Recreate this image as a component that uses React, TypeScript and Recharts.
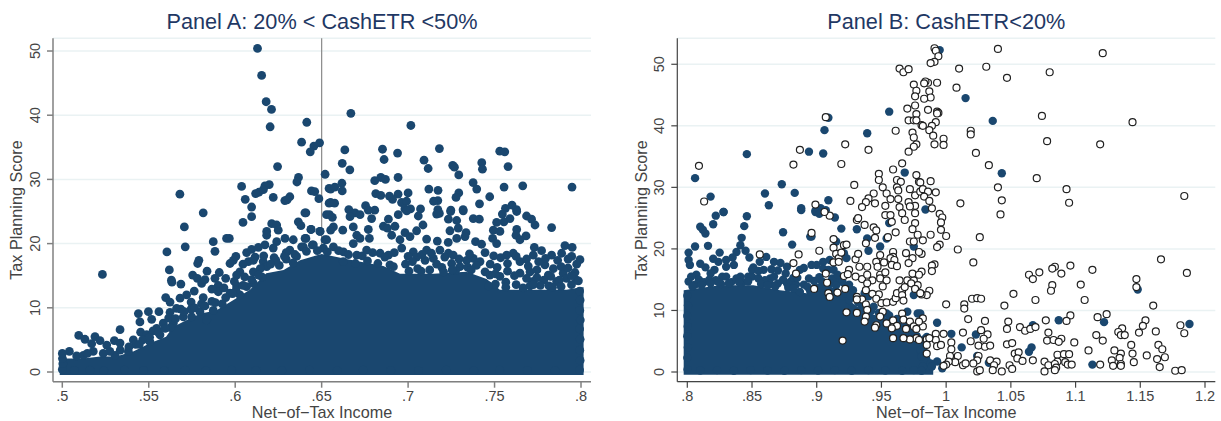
import { Area, CartesianGrid, ComposedChart, Label, ReferenceLine, Scatter, XAxis, YAxis } from 'recharts';

type Pair = [number, number];

const NAVY = '#1a476f';
const FONT = '"Liberation Sans", Arial, sans-serif';

const ticksAX = [0.5, 0.55, 0.6, 0.65, 0.7, 0.75, 0.8];
const ticksAY = [0, 10, 20, 30, 40, 50];
const ticksBX = [0.8, 0.85, 0.9, 0.95, 1, 1.05, 1.1, 1.15, 1.2];
const ticksBY = [0, 10, 20, 30, 40, 50];

// solid part of the cloud, too many firms to tell apart: [net-of-tax income, upper edge]
const massATop: Pair[] = [
  [0.4985, 2.1], [0.512, 2.1], [0.522, 2.4], [0.531, 2.4], [0.541, 3.2], [0.551, 4.5], [0.56, 5.5], [0.564, 7],
  [0.572, 8.1], [0.58, 9.1], [0.589, 9.6], [0.599, 11.2], [0.6085, 12.8], [0.618, 15.4], [0.628, 15.9], [0.6375, 17.4],
  [0.65, 18.4], [0.6664, 17.5], [0.6857, 16.5], [0.6953, 15.3], [0.7146, 15.3], [0.7338, 15.6], [0.7454, 14.5],
  [0.7531, 12.8], [0.7724, 12.8], [0.7916, 12.8], [0.8, 13.2], [0.8015, 13.2],
];

const massBTop: Pair[] = [
  [0.7972, 13.3], [0.8253, 14.1], [0.851, 14.1], [0.8716, 13.3], [0.8923, 12.8], [0.9077, 14.1], [0.918, 13.3],
  [0.9283, 11.1], [0.9386, 9.5], [0.9515, 9], [0.967, 7.9], [0.9798, 6.3], [0.986, 3.5], [0.99, 0.6],
];

const panelADots: Pair[] = [
  [0.6129, 50.4], [0.6153, 46.2], [0.6179, 42.1], [0.621, 40.9], [0.6202, 38.2], [0.6414, 38.9], [0.6384, 35.8], [0.6488, 35.7],
  [0.6455, 35.2], [0.6434, 34.3], [0.6245, 32], [0.652, 30.8], [0.6366, 30.3], [0.6357, 29.6], [0.6037, 28.9], [0.6197, 29.2],
  [0.6172, 29], [0.6163, 28.4], [0.6137, 28], [0.6118, 27.8], [0.6441, 28.2], [0.646, 28.1], [0.568, 27.7], [0.6058, 26.9],
  [0.622, 27.2], [0.6316, 27.3], [0.6287, 26.7], [0.63, 26.8], [0.6484, 27], [0.6543, 28.6], [0.6543, 26.3], [0.6095, 25.7],
  [0.5815, 24.8], [0.6409, 24.8], [0.6669, 40.3], [0.7016, 38.4], [0.6634, 34.6], [0.6852, 34.7], [0.6939, 34.1], [0.7181, 34.8],
  [0.753, 34.4], [0.7559, 34.3], [0.7092, 33], [0.7116, 31.7], [0.6861, 33.1], [0.6619, 32.5], [0.6663, 31.5], [0.7258, 32.2],
  [0.7268, 31.9], [0.7426, 32.6], [0.743, 31.6], [0.7578, 32], [0.7293, 30.7], [0.6942, 30.3], [0.6842, 30.3], [0.6807, 29.8],
  [0.6869, 30], [0.6617, 29.4], [0.6619, 28.2], [0.6552, 28.5], [0.6576, 28.8], [0.7376, 29.5], [0.7397, 28.5], [0.7555, 28.8],
  [0.7663, 29], [0.7948, 28.8], [0.712, 28.5], [0.7173, 28.3], [0.7, 27.9], [0.6942, 27.7], [0.6892, 27.4], [0.691, 26.9],
  [0.6813, 27.8], [0.6842, 27.5], [0.7293, 27.9], [0.7277, 27.2], [0.7472, 27.3], [0.7172, 26.7], [0.7147, 26.6], [0.6962, 26.4],
  [0.6991, 26.6], [0.6552, 26.4], [0.6575, 26.3], [0.7413, 26.2], [0.6754, 25.9], [0.6657, 25.3], [0.6807, 25.2], [0.6981, 25.4],
  [0.7014, 25.4], [0.7072, 25.4], [0.7172, 25.3], [0.7247, 25.2], [0.7318, 25.3], [0.7563, 25.5], [0.7601, 26], [0.7627, 25.3],
  [0.5706, 22.6], [0.6045, 23.3], [0.6095, 24.2], [0.5711, 19.5], [0.5873, 20.3], [0.5883, 18.8], [0.5605, 18.7], [0.595, 20.8],
  [0.5966, 20.8], [0.579, 17.4], [0.5783, 16.9], [0.5619, 15.9], [0.5837, 15.7], [0.5908, 15.5], [0.5232, 15.2], [0.5631, 14.3],
  [0.5634, 14], [0.5686, 13.7], [0.5754, 15.1], [0.5781, 14.6], [0.5806, 13.8], [0.5825, 14.4], [0.5883, 14.6], [0.5902, 13.5],
  [0.5902, 12.5], [0.597, 16.9], [0.5989, 17.4], [0.6004, 18], [0.6066, 18.6], [0.6095, 19.1], [0.6134, 19.4], [0.6172, 19.8],
  [0.6211, 23.1], [0.624, 22.9], [0.6249, 22.1], [0.6182, 21.9], [0.6182, 21.3], [0.6288, 20.8], [0.6336, 20.6], [0.624, 20.3],
  [0.6365, 23.4], [0.638, 22.8], [0.6438, 22.2], [0.649, 21.9], [0.6409, 20.8], [0.6403, 24.8], [0.6528, 24.5], [0.6519, 20.6],
  [0.6446, 19.8], [0.6384, 19.5], [0.6316, 19], [0.622, 19.3], [0.6027, 15.6], [0.6008, 15.1], [0.6076, 17.2], [0.6105, 17.4],
  [0.6162, 17.2], [0.6182, 16.4], [0.5598, 11.6], [0.5623, 10.9], [0.5763, 12.6], [0.5719, 12], [0.5681, 11.5], [0.5815, 11.6],
  [0.597, 12.3], [0.6027, 12], [0.6008, 13.4], [0.6066, 13.3], [0.5559, 9.4], [0.5498, 9.4], [0.544, 9.1], [0.5517, 8.2],
  [0.5449, 7.8], [0.5623, 9.3], [0.5661, 9.9], [0.5334, 6.6], [0.5095, 5.7], [0.5131, 5.1], [0.5189, 5.5], [0.5218, 4.9],
  [0.517, 4.4], [0.5301, 4.9], [0.5334, 4.5], [0.5257, 4.2], [0.5411, 5], [0.5424, 4.3], [0.5453, 6.2], [0.5488, 5.8],
  [0.5546, 6.8], [0.5584, 7.6], [0.5507, 4.7], [0.5565, 5.8], [0.5642, 7.6], [0.57, 8.6], [0.5748, 8.6], [0.5796, 9.4],
  [0.5873, 9.6], [0.5835, 8.1], [0.5041, 3.2], [0.5, 2.9], [0.5083, 2.5], [0.5122, 2.6], [0.5179, 3.2], [0.5237, 2.9],
  [0.5305, 2.6], [0.5382, 3.2], [0.6545, 24.5], [0.6562, 24.1], [0.6674, 24.7], [0.6693, 24.8], [0.6664, 24.2], [0.6722, 24.5],
  [0.6789, 23.9], [0.677, 25.2], [0.6886, 23.8], [0.6943, 24.5], [0.6992, 25.1], [0.7059, 24.3], [0.7165, 24.6], [0.7181, 24.7],
  [0.7246, 25], [0.7233, 23.8], [0.7281, 23.6], [0.7319, 25.1], [0.7377, 23.9], [0.7412, 23.8], [0.7545, 24.6], [0.7589, 23.9],
  [0.7554, 23.4], [0.7512, 23.3], [0.7628, 25], [0.7685, 24.3], [0.7714, 23.8], [0.7734, 22.9], [0.783, 22.5], [0.6439, 22.2],
  [0.6491, 21.9], [0.6568, 22.6], [0.6552, 22.1], [0.6622, 22.1], [0.6683, 22.6], [0.677, 22.2], [0.6857, 22.7], [0.688, 22.4],
  [0.6924, 22.7], [0.6982, 21.7], [0.7049, 22], [0.7086, 22.9], [0.7242, 22], [0.729, 22.4], [0.7335, 21.7], [0.7493, 22.1],
  [0.7531, 21.9], [0.7628, 22.2], [0.7624, 21.3], [0.7682, 21.2], [0.7647, 20.6], [0.6404, 20.8], [0.6529, 20.6], [0.6703, 21.3],
  [0.6722, 20.8], [0.6776, 20.8], [0.6905, 21.3], [0.6953, 20.6], [0.7011, 21.1], [0.7107, 20.7], [0.7169, 20.4], [0.7232, 20.2],
  [0.7281, 20.8], [0.7329, 21.1], [0.739, 20.3], [0.7425, 19.9], [0.7489, 20.8], [0.7512, 20], [0.773, 19.4], [0.7772, 18.9],
  [0.7907, 19.7], [0.7949, 19.4], [0.7724, 18.2], [0.783, 18.2], [0.7888, 18.5], [0.7994, 17.5], [0.7946, 18], [0.7965, 15.5],
  [0.7897, 15.4], [0.7791, 16.7], [0.784, 16.1], [0.7811, 15.1], [0.7705, 15.6], [0.7608, 18.5], [0.757, 18.2], [0.7647, 17.2],
  [0.7377, 17.7], [0.7339, 17.4], [0.7252, 16.9], [0.7233, 18.5], [0.7261, 18.2], [0.7184, 19], [0.7107, 19], [0.703, 18.7],
  [0.6963, 19.3], [0.6886, 18.2], [0.6838, 18.5], [0.676, 19], [0.6703, 18.2], [0.6626, 18.7], [0.6452, 19.8], [0.651, 19.3],
  [0.6394, 19.5], [0.6568, 19.5], [0.6683, 20], [0.7049, 17.9], [0.7098, 17.4], [0.7146, 17.7], [0.7974, 14.3], [0.7916, 14.6],
  [0.7859, 14.1], [0.7724, 14.1], [0.7647, 15.4], [0.7531, 14.9], [0.7473, 15.1], [0.7416, 17.2], [0.73, 16.4],
  [0.6412, 18.8], [0.6475, 18.9], [0.6533, 18.7], [0.6598, 18.9], [0.6655, 18.3], [0.6735, 18.1], [0.6795, 18.6], [0.6865, 17.9],
  [0.692, 18.6], [0.7, 18], [0.708, 18.3], [0.7135, 18.5], [0.7212, 17.9], [0.7295, 17.6], [0.7355, 18.4], [0.7445, 18.6],
  [0.7495, 18.1], [0.7535, 17.8], [0.7625, 18], [0.7685, 17.6], [0.7755, 17.2], [0.7795, 17.7], [0.7865, 17.4], [0.7925, 17.6],
  [0.6355, 18], [0.6295, 17.6], [0.6225, 17.8], [0.6165, 18.1], [0.6115, 17.9], [0.6045, 16.8], [0.6255, 16.6], [0.6335, 17],
  [0.6625, 17.2], [0.6695, 16.9], [0.6765, 17.3], [0.6825, 16.9], [0.6895, 16.7], [0.6985, 16.8], [0.7025, 17.2], [0.7165, 16.8],
  [0.7195, 16.3], [0.7345, 16.3], [0.7395, 16.6], [0.7475, 16.8], [0.7515, 16.3], [0.7575, 16.9], [0.7695, 16.5], [0.7745, 15.9],
  [0.7885, 16.4], [0.7925, 16.2], [0.7975, 16.8], [0.7005, 15.7], [0.7055, 16.1], [0.7125, 15.9], [0.7205, 15.6], [0.7275, 15.8],
  [0.7365, 15.9], [0.7445, 15.6], [0.7505, 15.3], [0.7575, 15.7], [0.7615, 15], [0.7685, 14.6], [0.7745, 14.7], [0.7785, 14.3],
  [0.7825, 14.9], [0.7875, 14.3], [0.7945, 15], [0.7565, 14], [0.7625, 13.6], [0.7705, 13.4], [0.7765, 13.5], [0.7815, 13.4],
  [0.7885, 13.3], [0.7945, 13.6], [0.7985, 14.2], [0.7505, 13.7], [0.7465, 13.4], [0.6155, 14.8], [0.6105, 15.6], [0.6055, 14.8],
  [0.6105, 13.8], [0.6005, 12.7], [0.5945, 11.6], [0.5935, 13.1], [0.5865, 12.9], [0.5865, 11], [0.5805, 10.6], [0.5745, 10.9],
  [0.5745, 9.8], [0.5685, 9.8], [0.5615, 8.4], [0.5625, 6.9], [0.5525, 6.4], [0.5465, 5], [0.5995, 14.1], [0.5945, 14.6],
  [0.6235, 17.4], [0.6295, 18.6], [0.6285, 18], [0.6345, 18.3], [0.6145, 16.1],
  [0.5385, 3.9], [0.5445, 4.3], [0.5505, 5.4], [0.5555, 6.2], [0.5595, 6.8], [0.5655, 8.3], [0.5705, 9.4], [0.5765, 10], [0.5825, 10.3],
  [0.5885, 10.8], [0.5925, 10.6], [0.5985, 12.2], [0.6045, 13.5], [0.6095, 14.4], [0.6135, 15.1], [0.6205, 16.8], [0.5275, 3.2],
  [0.5335, 3.4], [0.5145, 2.9], [0.7565, 13.2], [0.7665, 13.1], [0.7835, 13.2], [0.7725, 13.6], [0.6915, 16.4], [0.7075, 15.7], [0.7255, 15.9],
];

// rim of the cloud along the floor and the right-hand cut-off
const panelARim: Pair[] = [
  [0.7992, 12.6], [0.7995, 11.2], [0.7993, 9.6], [0.7996, 8.1], [0.7992, 6.7], [0.7995, 5.1], [0.7993, 3.4], [0.7995, 1.8], [0.7992, 0.3],
  [0.5, 0.4], [0.5003, 1.3], [0.5001, 2.1], [0.507, 0.25], [0.516, 0.3], [0.524, 0.2], [0.536, 0.3], [0.547, 0.25], [0.559, 0.2],
  [0.571, 0.3], [0.583, 0.2], [0.598, 0.3], [0.612, 0.25], [0.627, 0.2], [0.643, 0.3], [0.659, 0.2], [0.674, 0.3], [0.69, 0.25],
  [0.706, 0.2], [0.722, 0.3], [0.738, 0.2], [0.753, 0.3], [0.769, 0.25], [0.785, 0.2],
];

const panelBDots: Pair[] = [
  [0.806, 31.5], [0.846, 35.4], [0.818, 28.5], [0.828, 26], [0.86, 29], [0.873, 30.5], [0.863, 27.1], [0.883, 29.1],
  [0.894, 35.8], [0.905, 35.5], [0.906, 39.3], [0.909, 41.3], [0.939, 38.8], [0.956, 42.3], [0.968, 32.4], [0.909, 27.9],
  [0.888, 26.6], [0.903, 26.6], [0.907, 26.3], [0.899, 26.2], [0.995, 52.3], [1.015, 44.5], [1.036, 40.8], [1.043, 32.3],
  [0.984, 26.4], [0.993, 8], [1.004, 6.2], [1.023, 6.1], [1.012, 4], [0.98, 9.5], [1.087, 8.4], [1.067, 7.6], [1.122, 8.1],
  [1.188, 7.8], [1.148, 13.4], [1.066, 4], [1.064, 3.3], [1.113, 1.2], [1.033, 1.5], [1.024, 2.6], [0.98, 3.6], [0.981, 2.5],
  [0.985, 5.7], [0.993, 1.7], [0.988, 1.4], [0.982, 0.9], [0.997, 0.6], [0.981, 0.2], [0.989, 0.9], [0.801, 19.4], [0.806, 20.4],
  [0.81, 23.6], [0.812, 23.1], [0.814, 22.5], [0.82, 24], [0.822, 25.4], [0.828, 26], [0.846, 25.3], [0.844, 23.7], [0.842, 21.8],
  [0.874, 22.7], [0.881, 20.7], [0.888, 26.3], [0.899, 26], [0.902, 25.7], [0.914, 25.1], [0.919, 23.3], [0.895, 22], [0.896, 22],
  [0.931, 23.2], [0.939, 21.7], [0.94, 19.7], [0.949, 20.4], [0.954, 21.7], [0.956, 24.2], [0.975, 20.4], [0.975, 12.5], [0.978, 9.5],
  [0.97, 9.8], [0.801, 18.2], [0.802, 17.4], [0.816, 20.5], [0.825, 19.4], [0.814, 17], [0.841, 20.6], [0.838, 19.5], [0.848, 18.6],
  [0.861, 18.7], [0.867, 17.9], [0.872, 17.7], [0.877, 17.1], [0.896, 17.4], [0.9, 17.4], [0.905, 16.8], [0.915, 21.2], [0.921, 19.3],
  [0.923, 18.5], [0.856, 17.9], [0.859, 16.6], [0.851, 17], [0.83, 17.1], [0.836, 17.4], [0.821, 16.6], [0.824, 17.9], [0.801, 14.7],
  [0.807, 15.8], [0.818, 16], [0.827, 15.5], [0.841, 15.5], [0.847, 15.5], [0.864, 15.2], [0.867, 15.5], [0.876, 16], [0.887, 16.6],
  [0.894, 15.2], [0.909, 16.6], [0.913, 16.6], [0.877, 14.4], [0.887, 13], [0.904, 14.7], [0.917, 14.8], [0.928, 13.3], [0.935, 10.6],
  [0.937, 12.8], [0.944, 10.6], [0.954, 9.5], [0.97, 7.9],
  [0.8, 12.4], [0.8005, 10.8], [0.8, 9.1], [0.8003, 7.4], [0.8, 5.8], [0.8004, 4], [0.8, 2.3], [0.8002, 0.4], [0.81, 0.25], [0.823, 0.3],
  [0.836, 0.2], [0.849, 0.3], [0.862, 0.25], [0.875, 0.2], [0.888, 0.3], [0.901, 0.25], [0.914, 0.3], [0.927, 0.2], [0.94, 0.3],
  [0.953, 0.25], [0.966, 0.2], [0.975, 0.3],
  [0.803, 15.5], [0.806, 14.2], [0.809, 15], [0.813, 14.6], [0.817, 15], [0.822, 14.9], [0.826, 14.3], [0.83, 15.5], [0.834, 14.6],
  [0.838, 15.2], [0.843, 14.6], [0.85, 15.5], [0.855, 15.2], [0.86, 14.9], [0.864, 14.3], [0.87, 14.4], [0.874, 15], [0.88, 14.7],
  [0.884, 14.2], [0.89, 14.2], [0.893, 13.8], [0.898, 14.8], [0.902, 15.4], [0.906, 14], [0.912, 15.2], [0.916, 15.8], [0.92, 14.6],
  [0.925, 14.2], [0.929, 12.3], [0.932, 11.3], [0.936, 10.2], [0.94, 12.3], [0.925, 11.7], [0.82, 18.4], [0.83, 18.2], [0.835, 18.6],
  [0.81, 17.6], [0.845, 19.7], [0.85, 16.6], [0.855, 16.4], [0.865, 16.7], [0.87, 16.5], [0.882, 15.3], [0.905, 17.9], [0.91, 18.2],
  [0.89, 16.9], [0.885, 15.3],
  [0.804, 13.9], [0.811, 14.1], [0.818, 14.4], [0.824, 14.6], [0.832, 14.4], [0.84, 14.6], [0.847, 14.7], [0.857, 14.3], [0.862, 14.1],
  [0.868, 13.9], [0.878, 13.7], [0.882, 13.6], [0.895, 13.1], [0.901, 13.7], [0.911, 14.4], [0.915, 14.1], [0.922, 12.8], [0.926, 12.4],
  [0.934, 9.8], [0.942, 9.9], [0.948, 9.6], [0.956, 9.2], [0.962, 8.6], [0.974, 7.1], [0.983, 5.3],
];

const panelBRings: Pair[] = [
  [0.809, 33.5], [0.813, 27.7], [0.907, 41.4], [0.887, 36.1], [0.882, 33.7], [0.922, 37], [0.919, 33.8], [0.899, 27.2], [0.94, 36.1],
  [0.929, 30.4], [0.926, 27.8], [0.961, 39.2], [0.964, 49.3], [0.967, 48.7], [0.971, 49.2], [0.975, 46.7], [0.977, 45.7], [0.976, 44.8],
  [0.97, 42.8], [0.976, 43.3], [0.977, 41.9], [0.971, 40.9], [0.975, 40.9], [0.977, 40.9], [0.981, 40.1], [0.974, 38.9], [0.975, 38.1],
  [0.977, 37], [0.975, 36.6], [0.971, 35.8], [0.966, 33.9], [0.959, 32.9], [0.948, 32.2], [0.948, 31.2], [0.951, 30], [0.954, 29],
  [0.957, 28.1], [0.944, 29], [0.94, 28.2], [0.938, 27.6], [0.935, 26.8], [0.945, 27.4], [0.953, 27], [0.977, 32], [0.962, 31.2],
  [0.965, 30.9], [0.962, 30], [0.963, 29.5], [0.972, 29.7], [0.963, 28.1], [0.971, 27.6], [0.976, 28.7], [0.98, 29.3], [0.964, 26.8],
  [0.976, 27], [0.979, 30.9], [0.972, 26.9],
  [0.991, 52.6], [0.992, 52.2], [0.994, 51.3], [0.991, 50.4], [0.988, 50.2], [1.01, 49.3], [1.031, 49.6], [1.04, 52.5], [1.121, 51.8],
  [1.08, 48.7], [1.047, 47.8], [1.008, 46.2], [0.993, 47], [0.986, 47], [0.984, 47.2], [0.983, 46.9], [0.987, 45.6], [0.988, 44.6],
  [0.983, 44.4], [0.986, 42.6], [0.993, 42.3], [0.994, 42.1], [0.993, 42], [1.074, 41.6], [1.144, 40.6], [0.992, 40.6], [0.989, 40],
  [0.982, 40], [0.987, 39.3], [1.019, 39.2], [1.019, 38.6], [0.99, 38.4], [0.998, 37.9], [1.078, 37.5], [1.119, 37], [0.991, 37],
  [0.998, 36.9], [1.023, 35.6], [1.033, 33.6], [1.07, 31.5], [0.988, 31], [0.98, 30.8], [1.04, 30], [1.093, 29.7], [0.982, 29.7],
  [0.986, 29.3], [0.992, 29.2], [1.184, 28.6], [0.983, 28.5], [0.987, 27.8], [1.011, 27.4], [1.043, 27.9], [1.095, 27.5], [0.989, 26.6],
  [1.042, 25.6], [0.995, 25.7], [0.997, 25.1], [0.996, 24.3], [0.996, 23.1], [0.988, 22.3], [1, 22.1], [1.026, 21.9], [0.982, 21.4],
  [0.995, 20.7], [0.993, 20.3], [1.009, 19.9], [0.981, 19.2], [1.021, 17.8], [0.991, 17.5], [0.989, 17.3], [0.989, 16.4], [0.981, 16.3],
  [1.166, 18.3], [1.096, 17.3], [1.084, 17.1], [1.082, 16.8], [1.113, 16.6], [1.072, 16.2], [1.089, 16], [1.064, 15.8], [1.067, 15.1],
  [1.186, 16.1], [1.147, 15.1], [1.082, 14.1], [1.081, 13.2], [1.104, 14.2], [1.147, 13.8], [0.987, 13.2], [0.985, 12.5], [0.981, 12.6],
  [1.052, 12.7], [1.02, 11.9], [1.024, 12], [1.027, 11.9], [1.107, 11.7], [1.069, 11.7], [1.014, 11], [1.014, 10.3], [1, 11], [1.045, 10.8],
  [1.16, 10.8], [1.124, 9.4], [1.117, 8.9], [1.096, 9.2], [1.017, 8.6], [1.03, 8.3], [1.048, 8.2], [1.077, 8.4], [1.093, 8.3], [1.154, 8.4],
  [0.982, 8.7], [0.982, 7.4], [1.047, 7], [1.057, 7.3], [1.061, 6.7], [1.065, 7], [1.069, 7.3], [1.152, 7.5], [1.181, 7.6], [1.027, 6.8],
  [1.032, 6.1], [1.013, 6.4], [0.998, 6.2], [0.992, 6.2], [1.136, 7.1], [1.133, 6.5], [1.135, 6], [1.138, 6], [1.149, 6.4], [1.162, 6.6],
  [1.184, 6.3], [1.116, 6], [1.079, 6.4], [1.029, 5.4], [1.019, 5], [1.078, 5.1], [1.083, 5.2], [1.089, 5.4], [1.087, 4.9], [1.121, 5.1],
  [1.099, 4.8], [0.985, 5.3], [0.992, 5.2], [0.987, 5.5], [1.047, 4.5], [1.051, 4.7], [1.004, 4.8], [1.025, 4.3], [1.03, 4.1], [1.034, 4.3],
  [1.143, 4.4], [1.164, 4.4], [1.167, 3.7], [0.985, 4.4], [0.993, 4.2], [0.996, 4.4], [1.004, 3.7], [1.11, 3.5], [1.053, 3], [1.056, 3.2],
  [1.086, 2.8], [1.091, 2.9], [1.095, 2.9], [1.13, 3.5], [1.135, 3], [1.144, 3], [1.155, 2.7], [1.169, 2.4], [1.163, 2.1], [0.985, 3],
  [1.003, 2.6], [1.009, 2.6], [1.025, 2.6], [1.024, 1.9], [1.055, 2.2], [1.059, 1.8], [1.067, 1.9], [1.034, 1.9], [1.039, 1.7], [1.076, 1.7],
  [1.086, 1.7], [1.092, 1.6], [1.094, 1.2], [1.097, 1.2], [1.128, 1.9], [1.134, 2.3], [1.135, 1.3], [1.145, 1.6], [1.007, 1.6], [1.002, 1.7],
  [1, 1.2], [0.998, 1], [1.013, 1.1], [1.015, 1.4], [1.021, 1.4], [1.049, 1.1], [1.037, 1.1], [1.051, 0.5], [1.079, 1.1], [1.084, 1.3],
  [1.085, 0.7], [1.084, 0.3], [1.076, 0.1], [1.119, 1.2], [1.129, 1], [1.135, 1], [1.165, 0.8], [1.177, 0.2], [1.182, 0.3], [1.024, 0.1],
  [1.026, 0.3], [1.036, 0.3], [1.043, 0.1],
  [0.856, 19.1], [0.886, 19.1], [0.902, 19.7], [0.882, 17.7], [0.884, 16], [0.896, 22.6], [0.898, 13.5], [0.907, 16], [0.908, 14.5],
  [0.909, 12.8], [0.91, 12.2], [0.916, 12.9], [0.913, 21.6], [0.913, 20.2], [0.915, 19.2], [0.917, 18.5], [0.919, 19.4], [0.921, 20.6],
  [0.923, 20.7], [0.913, 17.8], [0.917, 17.9], [0.922, 13.5], [0.921, 15.6], [0.925, 16.6], [0.91, 25.4], [0.906, 26], [0.931, 24.7],
  [0.932, 25], [0.937, 23.9], [0.944, 23.5], [0.946, 23], [0.945, 21.8], [0.938, 20.9], [0.955, 21.9], [0.961, 22.7], [0.953, 25.5],
  [0.957, 25.5], [0.958, 24.4], [0.966, 25.8], [0.968, 24.7], [0.976, 25.8], [0.976, 24.2], [0.974, 23.2], [0.978, 22.3], [0.972, 21.2],
  [0.975, 21.2], [0.979, 19.5], [0.969, 19.3], [0.974, 18.5], [0.971, 17.7], [0.959, 19.5], [0.959, 18.7], [0.957, 18.5], [0.96, 18.2],
  [0.958, 17.4], [0.962, 17.2], [0.949, 19], [0.946, 17.9], [0.952, 17.8], [0.947, 17.1], [0.939, 17.1], [0.933, 17.1], [0.93, 18.3],
  [0.932, 19.2], [0.924, 15.9], [0.93, 15.5], [0.935, 15.1], [0.939, 15.8], [0.943, 14.9], [0.949, 15.8], [0.953, 16.2], [0.949, 15.2],
  [0.954, 14.9], [0.951, 13.9], [0.948, 12.6], [0.939, 14.4], [0.938, 13.3], [0.943, 12.7], [0.931, 12.2], [0.935, 11.8], [0.931, 11.8],
  [0.946, 11.9], [0.95, 11.2], [0.954, 11.3], [0.959, 11.4], [0.961, 12], [0.962, 12.8], [0.966, 13.3], [0.966, 12.5], [0.968, 13.8],
  [0.964, 14.9], [0.97, 14.9], [0.975, 14.9], [0.978, 14.1], [0.973, 14.4], [0.974, 16], [0.979, 15.8], [0.976, 13.5], [0.98, 12.8],
  [0.967, 11.6], [0.938, 11], [0.939, 10.1], [0.938, 9], [0.937, 8.2], [0.923, 9.7], [0.931, 9.6], [0.951, 9.8], [0.949, 9], [0.946, 7.6],
  [0.945, 7.2], [0.954, 7.9], [0.959, 8.4], [0.966, 9.5], [0.967, 8.5], [0.972, 8.2], [0.959, 7.3], [0.962, 7.5], [0.958, 7.1], [0.969, 7],
  [0.975, 7.4], [0.977, 7], [0.979, 8.2], [0.977, 5.5], [0.972, 5.3], [0.967, 5.5], [0.959, 5.5], [0.92, 5.1], [0.979, 5.2],
];

const toPoints = (pairs: Pair[]) => pairs.map(([x, y]) => ({ x, y }));
const toBand = (pairs: Pair[]) => pairs.map(([x, top]) => ({ x, band: [-0.45, top] }));

const DotMark = (props: any) => <circle cx={props.cx} cy={props.cy} r={4.4} fill={NAVY} />;
const DotMarkB = (props: any) => <circle cx={props.cx} cy={props.cy} r={4.2} fill={NAVY} />;
const RingMark = (props: any) => <circle cx={props.cx} cy={props.cy} r={3.5} fill="#fff" stroke="#222" strokeWidth={1.2} />;

const fmtTick = (v: number) => String(v).replace(/^0\./, '.');

const RotatedTick = ({ x, y, payload }: any) => (
  <text x={x} y={y} transform={`rotate(-90 ${x} ${y})`} textAnchor="middle" fontFamily={FONT} fontSize={14.5} fill="#444">
    {payload.value}
  </text>
);

interface PanelProps {
  title: string;
  left: number;
  width: number;
  yAxisWidth: number;
  yTitleOffset: number;
  right: number;
  xDomain: [number, number];
  yDomain: [number, number];
  xTicks: number[];
  yTicks: number[];
  axisColor: string;
  axisWidth: number;
  children: any;
}

const Panel = ({ title, left, width, yAxisWidth, yTitleOffset, right, xDomain, yDomain, xTicks, yTicks, axisColor, axisWidth, children }: PanelProps) => {
  const plotCenter = yAxisWidth + (width - yAxisWidth - right) / 2;
  return (
    <div style={{ position: 'absolute', left, top: 0 }}>
      <ComposedChart width={width} height={421} margin={{ top: 38.3, right, bottom: 0, left: 0 }}>
        <text x={plotCenter} y={29} textAnchor="middle" fontFamily={FONT} fontSize={21.7} fill="#1f3864">
          {title}
        </text>
        <CartesianGrid horizontal vertical={false} stroke="#eaf2f3" strokeWidth={1.5} />
        <XAxis
          type="number"
          dataKey="x"
          domain={xDomain}
          ticks={xTicks}
          interval={0}
          allowDataOverflow
          height={39.3}
          tickFormatter={fmtTick}
          tickSize={6}
          tickMargin={3}
          stroke={axisColor}
          strokeWidth={axisWidth}
          tick={{ fontFamily: FONT, fontSize: 14.5, fill: '#444' }}
        >
          <Label value="Net−of−Tax Income" position="insideBottom" offset={3} fontFamily={FONT} fontSize={16.2} fill="#444" />
        </XAxis>
        <YAxis
          type="number"
          dataKey="y"
          domain={yDomain}
          ticks={yTicks}
          interval={0}
          allowDataOverflow
          width={yAxisWidth}
          tickSize={6}
          tickMargin={7}
          stroke={axisColor}
          strokeWidth={axisWidth}
          tick={<RotatedTick />}
        >
          <Label value="Tax Planning Score" angle={-90} position="insideLeft" offset={yTitleOffset} fontFamily={FONT} fontSize={16.2} fill="#444" style={{ textAnchor: 'middle' }} />
        </YAxis>
        {children}
      </ComposedChart>
    </div>
  );
};

export default function App() {
  return (
    <div style={{ position: 'absolute', left: 0, top: 0, width: 1221, height: 421, background: '#fff' }}>
      <Panel
        title="Panel A: 20% < CashETR <50%"
        left={0}
        width={610}
        yAxisWidth={53}
        yTitleOffset={16}
        right={19}
        xDomain={[0.49462, 0.80578]}
        yDomain={[-1.51, 51.98]}
        xTicks={ticksAX}
        yTicks={ticksAY}
        axisColor="#808080"
        axisWidth={1.5}
      >
        {/* the cutoff line disappears behind the cloud, so it only runs above it and below it */}
        <ReferenceLine segment={[{ x: 0.65, y: 19 }, { x: 0.65, y: 51.98 }]} stroke="#8a8a8a" strokeWidth={1.2} />
        <Area data={toBand(massATop)} dataKey="band" type="linear" stroke="none" fill={NAVY} fillOpacity={1} dot={false} activeDot={false} isAnimationActive={false} />
        <Scatter data={toPoints(panelARim)} dataKey="y" shape={DotMark} isAnimationActive={false} />
        <Scatter data={toPoints(panelADots)} dataKey="y" shape={DotMark} isAnimationActive={false} />
      </Panel>
      <Panel
        title="Panel B: CashETR<20%"
        left={620}
        width={601}
        yAxisWidth={57.3}
        yTitleOffset={21}
        right={5.7}
        xDomain={[0.79227, 1.20796]}
        yDomain={[-1.576, 54.22]}
        xTicks={ticksBX}
        yTicks={ticksBY}
        axisColor="#444444"
        axisWidth={1.2}
      >
        <Area data={toBand(massBTop)} dataKey="band" type="linear" stroke="none" fill={NAVY} fillOpacity={1} dot={false} activeDot={false} isAnimationActive={false} />
        <Scatter data={toPoints(panelBDots)} dataKey="y" shape={DotMarkB} isAnimationActive={false} />
        <Scatter data={toPoints(panelBRings)} dataKey="y" shape={RingMark} isAnimationActive={false} />
      </Panel>
    </div>
  );
}
